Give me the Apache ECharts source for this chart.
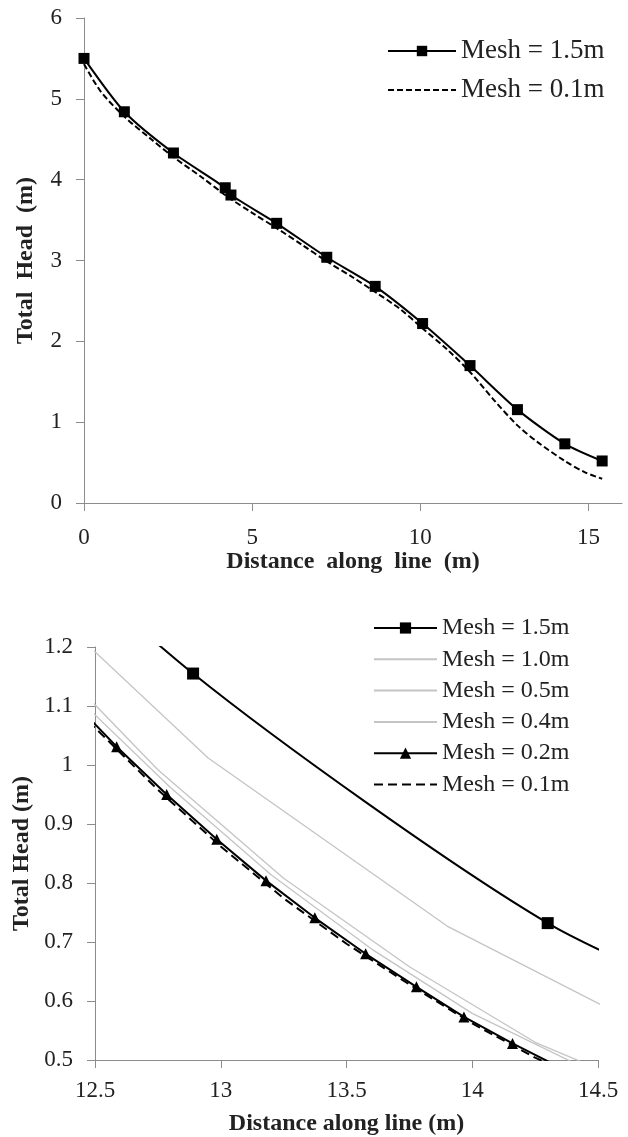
<!DOCTYPE html>
<html lang="en">
<head>
    <meta charset="UTF-8">
    <title>Total Head</title>
    <script src="https://cdn.jsdelivr.net/npm/echarts@6/dist/echarts.min.js"></script>
    <style>
        html, body { margin: 0; padding: 0; background: #fff; }
        #container { width: 628px; height: 1137px; }
    </style>
</head>
<body>
<div id="container"></div>
<script type="text/javascript">

    // top chart
    var topX15 = [0, 1.2, 2.66, 4.2, 4.37, 5.73, 7.22, 8.66, 10.07, 11.48, 12.89, 14.3, 15.41];
    var topY15 = [5.5, 4.84, 4.33, 3.9, 3.81, 3.46, 3.04, 2.68, 2.22, 1.7, 1.155, 0.732, 0.52];
    var topX01 = [0, 0.5, 1.2, 2, 2.66, 3.5, 4.3, 5, 5.73, 6.5, 7.22, 8, 8.66, 9.4, 10.07, 10.8, 11.48, 12.2, 12.89, 13.5, 14.3, 14.9, 15.41];
    var topY01 = [5.43, 5.09, 4.78, 4.5, 4.28, 4.03, 3.78, 3.59, 3.4, 3.19, 2.99, 2.79, 2.61, 2.4, 2.16, 1.9, 1.62, 1.27, 0.96, 0.75, 0.52, 0.38, 0.3];

    // bottom chart (zoom 12.5 - 14.5)
    var mesh10X = [11.98, 12.95, 13.9, 14.85];
    var mesh10Y = [1.4, 1.012, 0.727, 0.52];
    var mesh05X = [12.25, 12.75, 13.25, 13.75, 14.25, 14.75];
    var mesh05Y = [1.212, 0.992, 0.808, 0.658, 0.53, 0.44];
    var mesh04X = [12.4, 12.8, 13.2, 13.6, 14.0, 14.4];
    var mesh04Y = [1.126, 0.962, 0.814, 0.688, 0.579, 0.496];
    var mesh02X = [12.39, 12.586, 12.785, 12.984, 13.18, 13.374, 13.576, 13.778, 13.967, 14.16, 14.36];
    var mesh02Y = [1.118, 1.031, 0.95, 0.874, 0.804, 0.741, 0.68, 0.624, 0.573, 0.528, 0.485];
    var mesh01X = [12.25, 12.5, 12.75, 13.0, 13.25, 13.5, 13.75, 14.0, 14.25, 14.5];
    var mesh01Y = [1.18, 1.063, 0.958, 0.862, 0.774, 0.697, 0.628, 0.562, 0.504, 0.455];

    var topTicks = [0, 5, 10, 15];
    var names = ['Mesh = 1.5m', 'Mesh = 1.0m', 'Mesh = 0.5m', 'Mesh = 0.4m', 'Mesh = 0.2m', 'Mesh = 0.1m'];

    function pairs(xs, ys) {
        var out = [];
        for (var i = 0; i < xs.length; i++) {
            out.push([xs[i], ys[i]]);
        }
        return out;
    }

    var FONT = 'Liberation Serif';
    var AXIS = '#8c8c8c';
    var TXT = '#222';
    var GRAY = '#c4c4c4';

    function valueAxis(idx, opt) {
        var base = {
            type: 'value',
            gridIndex: idx,
            splitLine: {show: false},
            axisLine: {show: true, lineStyle: {color: AXIS, width: 1}},
            axisTick: {show: true, length: 8, lineStyle: {color: AXIS}},
            axisLabel: {color: TXT, fontFamily: FONT, fontSize: 23},
            nameLocation: 'middle',
            nameTextStyle: {color: TXT, fontFamily: FONT, fontSize: 24, fontWeight: 'bold'}
        };
        for (var k in opt) {
            if (typeof opt[k] === 'object' && base[k] && !Array.isArray(opt[k])) {
                base[k] = Object.assign({}, base[k], opt[k]);
            } else {
                base[k] = opt[k];
            }
        }
        return base;
    }

    var myChart = echarts.init(document.getElementById('container'), null, {renderer: 'canvas'});

    var hide = {opacity: 0};

    myChart.setOption({
        animation: false,
        backgroundColor: '#fff',
        grid: [
            {left: 84, top: 18, width: 538, height: 485},
            {left: 95, top: 647, width: 503, height: 415}
        ],
        legend: [
            {
                orient: 'vertical', left: 387, top: 36, padding: 0,
                itemWidth: 68, itemHeight: 13, itemGap: 9,
                selectedMode: false,
                textStyle: {fontFamily: FONT, fontSize: 27, color: TXT, lineHeight: 30},
                data: [
                    {name: names[0]},
                    {name: names[5], itemStyle: hide}
                ]
            },
            {
                orient: 'vertical', left: 373, top: 615, padding: 0,
                itemWidth: 63, itemHeight: 14, itemGap: 5.3,
                selectedMode: false,
                textStyle: {fontFamily: FONT, fontSize: 24, color: TXT, lineHeight: 26},
                data: [
                    {name: names[0]},
                    {name: names[1], itemStyle: hide},
                    {name: names[2], itemStyle: hide},
                    {name: names[3], itemStyle: hide},
                    {name: names[4]},
                    {name: names[5], itemStyle: hide, lineStyle: {type: [9, 5], color: '#000', width: 2}}
                ]
            }
        ],
        xAxis: [
            valueAxis(0, {
                min: 0, max: 16, interval: 5,
                axisTick: {customValues: topTicks},
                axisLabel: {customValues: topTicks, margin: 23},
                name: 'Distance  along  line  (m)', nameGap: 40
            }),
            valueAxis(1, {
                min: 12.5, max: 14.5, interval: 0.5,
                axisLabel: {margin: 19},
                name: 'Distance along line (m)', nameGap: 52
            })
        ],
        yAxis: [
            valueAxis(0, {
                min: 0, max: 6, interval: 1,
                axisLabel: {margin: 22},
                name: 'Total  Head  (m)', nameGap: 46
            }),
            valueAxis(1, {
                min: 0.5, max: 1.2, interval: 0.1,
                axisLabel: {margin: 22},
                name: 'Total Head (m)', nameGap: 57
            })
        ],
        series: [
            {
                name: names[0], type: 'line', xAxisIndex: 0, yAxisIndex: 0,
                data: pairs(topX15, topY15), smooth: 0.25,
                symbol: 'rect', symbolSize: 11, showAllSymbol: true,
                lineStyle: {color: '#000', width: 2}, itemStyle: {color: '#000'}, z: 3
            },
            {
                name: names[5], type: 'line', xAxisIndex: 0, yAxisIndex: 0,
                data: pairs(topX01, topY01), smooth: 0.3, symbol: 'none',
                lineStyle: {color: '#000', width: 2, type: [6, 3]}, itemStyle: {color: '#000'}, z: 2
            },
            {
                name: names[1], type: 'line', xAxisIndex: 1, yAxisIndex: 1,
                data: pairs(mesh10X, mesh10Y), symbol: 'none', clip: true,
                lineStyle: {color: GRAY, width: 1.3}, itemStyle: {color: GRAY}
            },
            {
                name: names[2], type: 'line', xAxisIndex: 1, yAxisIndex: 1,
                data: pairs(mesh05X, mesh05Y), symbol: 'none', clip: true,
                lineStyle: {color: GRAY, width: 1.3}, itemStyle: {color: GRAY}
            },
            {
                name: names[3], type: 'line', xAxisIndex: 1, yAxisIndex: 1,
                data: pairs(mesh04X, mesh04Y), symbol: 'none', clip: true,
                lineStyle: {color: GRAY, width: 1.3}, itemStyle: {color: GRAY}
            },
            {
                name: names[5], type: 'line', xAxisIndex: 1, yAxisIndex: 1,
                data: pairs(mesh01X, mesh01Y), symbol: 'none', clip: true,
                lineStyle: {color: '#000', width: 2, type: [9, 5]}, itemStyle: {color: '#000'}
            },
            {
                name: names[4], type: 'line', xAxisIndex: 1, yAxisIndex: 1,
                data: pairs(mesh02X, mesh02Y), clip: true,
                symbol: 'triangle', symbolSize: 11, showAllSymbol: true,
                lineStyle: {color: '#000', width: 2}, itemStyle: {color: '#000'}
            },
            {
                name: names[0], type: 'line', xAxisIndex: 1, yAxisIndex: 1,
                data: pairs(topX15, topY15), smooth: 0.25, clip: true,
                symbol: 'rect', symbolSize: 12, showAllSymbol: true,
                lineStyle: {color: '#000', width: 2}, itemStyle: {color: '#000'}
            }
        ]
    });
</script>
</body>
</html>
